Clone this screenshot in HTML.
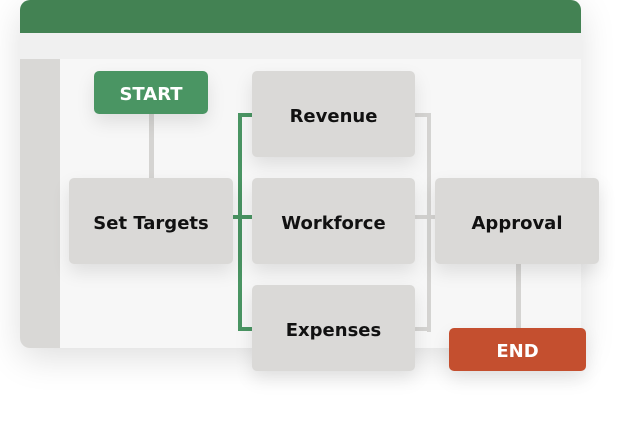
<!DOCTYPE html>
<html><head><style>
body{margin:0;width:620px;height:422px;background:#fff;position:relative;overflow:hidden;font-family:"Liberation Sans",sans-serif}
.a{position:absolute}
.n{position:absolute;background:#dad9d7;border-radius:5px;display:flex;align-items:center;justify-content:center;font-family:"DejaVu Sans",sans-serif;font-weight:bold;font-size:18px;color:#111;box-shadow:0 8px 18px rgba(0,0,0,0.10);box-sizing:border-box;padding-top:5px}
</style></head><body>
<div class="a" style="left:20px;top:0;width:561px;height:348px;border-radius:10px;background:#f7f7f7;overflow:hidden;box-shadow:0 10px 35px rgba(0,0,0,0.13)">
 <div class="a" style="left:0;top:0;width:561px;height:33px;background:#438253"></div>
 <div class="a" style="left:0;top:33px;width:561px;height:26px;background:#f0f0f0"></div>
 <div class="a" style="left:0;top:59px;width:40px;height:289px;background:#d9d8d6"></div>
</div>
<div class="a" style="left:149px;top:112px;width:5px;height:68px;background:#d5d4d2"></div>
<div class="a" style="left:516px;top:262px;width:5px;height:68px;background:#d5d4d2"></div>
<div class="a" style="left:413px;top:113px;width:18px;height:4px;background:#d5d4d2"></div>
<div class="a" style="left:427px;top:113px;width:4px;height:219px;background:#d5d4d2"></div>
<div class="a" style="left:413px;top:327px;width:18px;height:4px;background:#d5d4d2"></div>
<div class="a" style="left:413px;top:215px;width:24px;height:4px;background:#d5d4d2"></div>
<div class="a" style="left:238px;top:113px;width:4px;height:218px;background:#4a9563"></div>
<div class="a" style="left:231px;top:215px;width:23px;height:4px;background:#4a9563"></div>
<div class="a" style="left:238px;top:113px;width:16px;height:4px;background:#4a9563"></div>
<div class="a" style="left:238px;top:327px;width:16px;height:4px;background:#4a9563"></div>
<div class="n" style="left:94px;top:71px;width:114px;height:43px;background:#4a9563;color:#fff;padding-top:3px">START</div>
<div class="n" style="left:252px;top:71px;width:163px;height:86px">Revenue</div>
<div class="n" style="left:69px;top:178px;width:164px;height:86px">Set Targets</div>
<div class="n" style="left:252px;top:178px;width:163px;height:86px">Workforce</div>
<div class="n" style="left:252px;top:285px;width:163px;height:86px">Expenses</div>
<div class="n" style="left:435px;top:178px;width:164px;height:86px">Approval</div>
<div class="n" style="left:449px;top:328px;width:137px;height:43px;background:#c44f2f;color:#fff;padding-top:3px">END</div>
</body></html>
